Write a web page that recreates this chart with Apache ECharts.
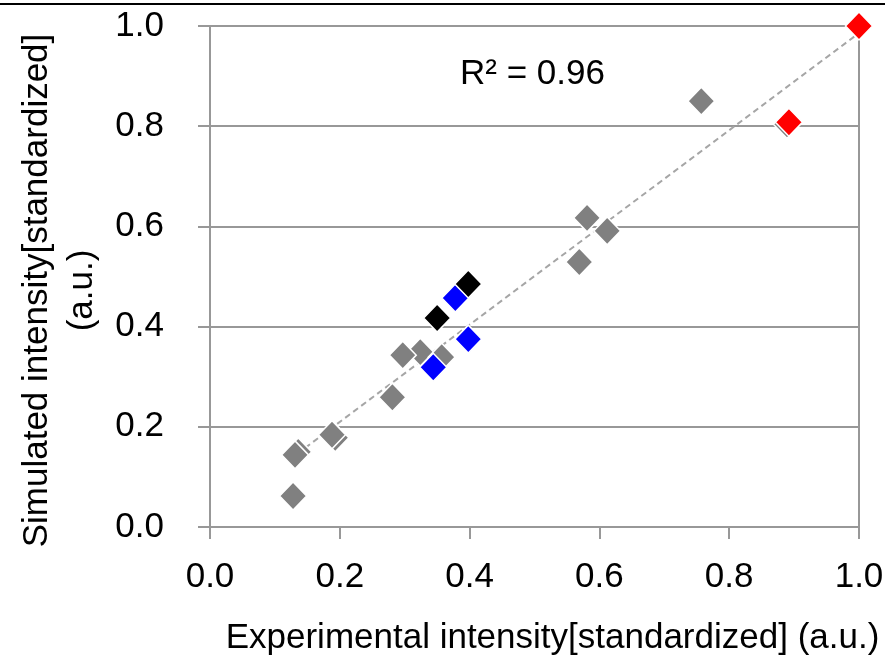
<!DOCTYPE html>
<html>
<head>
<meta charset="utf-8">
<script src="https://cdn.jsdelivr.net/npm/echarts@6/dist/echarts.min.js"></script>
<style>
    html, body { margin: 0; padding: 0; background: #fff; }
    #chart { width: 885px; height: 658px; }
</style>
</head>
<body>
<div id="chart"></div>
<script>
    // 实验值 / 模拟值 (standardized)
    const grayX  = [0.128, 0.136, 0.131, 0.193, 0.188, 0.281, 0.324, 0.357, 0.297, 0.569, 0.581, 0.612, 0.757, 0.889];
    const grayY  = [0.062, 0.150, 0.144, 0.178, 0.184, 0.259, 0.349, 0.339, 0.343, 0.529, 0.617, 0.591, 0.850, 0.804];
    const blueX  = [0.344, 0.398, 0.378];
    const blueY  = [0.319, 0.375, 0.457];
    const blackX = [0.350, 0.398];
    const blackY = [0.417, 0.485];
    const redX   = [0.892, 1.000];
    const redY   = [0.808, 1.000];
    // 趋势线两端
    const trendX = [0.122, 1.000];
    const trendY = [0.134, 0.986];

    const font = "'Liberation Sans', Arial, sans-serif";
    const lineGray = '#989898';

    function pairs(xs, ys) {
        return xs.map(function (x, i) { return [x, ys[i]]; });
    }

    function marker(name, xs, ys, color) {
        return {
            name: name,
            type: 'scatter',
            symbol: 'diamond',
            symbolSize: [27, 28],
            data: pairs(xs, ys),
            itemStyle: { color: color, borderColor: '#fff', borderWidth: 1.5, opacity: 1 },
            emphasis: { disabled: true },
            z: 3
        };
    }

    const chart = echarts.init(document.getElementById('chart'), null, { renderer: 'canvas' });
    chart.setOption({
        animation: false,
        backgroundColor: '#fff',
        textStyle: { fontFamily: font },
        title: {
            text: 'R² = 0.96',
            left: 455,
            top: 52,
            textStyle: { fontFamily: font, fontSize: 35, fontWeight: 'normal', color: '#000' }
        },
        graphic: [{
            type: 'line',
            shape: { x1: 0, y1: 4, x2: 885, y2: 4 },
            style: { stroke: '#000', lineWidth: 2 }
        }],
        grid: { left: 210, right: 26, top: 26, bottom: 131, containLabel: false, outerBoundsMode: 'none' },
        xAxis: {
            type: 'value',
            min: 0,
            max: 1,
            interval: 0.2,
            name: 'Experimental intensity[standardized] (a.u.)',
            nameLocation: 'middle',
            nameGap: 94,
            nameTextStyle: { fontFamily: font, fontSize: 35, color: '#000', padding: [0, 0, 0, 36] },
            axisLine: { show: true, lineStyle: { color: lineGray, width: 2 } },
            axisTick: { show: true, inside: false, length: 12, lineStyle: { color: lineGray, width: 2 } },
            axisLabel: {
                fontFamily: font, fontSize: 35, color: '#000', margin: 33,
                formatter: function (v) { return v.toFixed(1); }
            },
            splitLine: { show: false }
        },
        yAxis: [{
            type: 'value',
            min: 0,
            max: 1,
            interval: 0.2,
            name: 'Simulated intensity[standardized]\n(a.u.)',
            nameLocation: 'middle',
            nameGap: 104,
            nameRotate: 90,
            nameTextStyle: { fontFamily: font, fontSize: 35, color: '#000', lineHeight: 45, align: 'center', padding: [0, 28, 0, 0] },
            axisLine: { show: true, lineStyle: { color: lineGray, width: 2 } },
            axisTick: { show: true, inside: false, length: 12, lineStyle: { color: lineGray, width: 2 } },
            axisLabel: {
                fontFamily: font, fontSize: 35, color: '#000', margin: 46,
                formatter: function (v) { return v.toFixed(1); }
            },
            splitLine: { show: true, lineStyle: { color: lineGray, width: 2 } }
        }, {
            type: 'value',
            min: 0,
            max: 1,
            position: 'right',
            axisLine: { show: true, onZero: false, lineStyle: { color: lineGray, width: 2 } },
            axisTick: { show: false },
            axisLabel: { show: false },
            splitLine: { show: false }
        }],
        series: [
            {
                name: 'trend',
                type: 'line',
                data: pairs(trendX, trendY),
                symbol: 'none',
                lineStyle: { color: '#a6a6a6', width: 2, type: [6, 4] },
                z: 2,
                silent: true
            },
            marker('gray', grayX, grayY, '#808080'),
            marker('blue', blueX, blueY, '#0000ff'),
            marker('black', blackX, blackY, '#000000'),
            marker('red', redX, redY, '#ff0000')
        ]
    });
</script>
</body>
</html>
